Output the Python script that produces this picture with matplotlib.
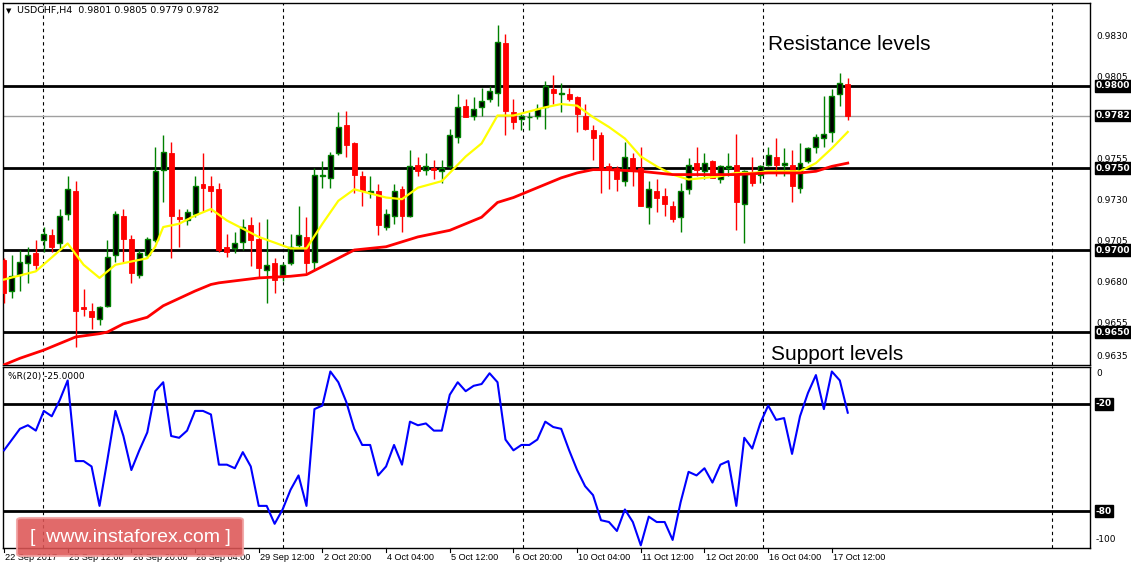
import numpy as np
import matplotlib
matplotlib.use("Agg")
import matplotlib.pyplot as plt
from matplotlib.patches import FancyBboxPatch
import matplotlib.transforms as mtrans

# ---- data (prices in 1/10000) ----
O = [9694,9675,9685,9692,9698,9706,9709,9704,9722,9736,
     9665,9663,9658,9666,9697,9721,9707,9685,9697,9706,
     9749,9759,9720,9718,9722,9740,9739,9737,9702,9701,
     9705,9715,9707,9688,9692,9685,9692,9703,9708,9693,
     9745,9744,9759,9776,9765,9745,9735,9736,9714,9721,
     9737,9721,9752,9749,9750,9748,9751,9769,9788,9782,
     9787,9792,9796,9826,9784,9780,9781,9782,9787,9798,
     9795,9795,9793,9782,9773,9770,9751,9750,9742,9756,
     9750,9726,9736,9733,9727,9720,9737,9753,9748,9754,
     9743,9750,9752,9728,9747,9746,9752,9757,9752,9752,
     9738,9754,9763,9768,9772,9795,9801]
H = [9695,9697,9700,9702,9706,9714,9713,9725,9745,9742,
     9676,9668,9666,9706,9724,9725,9709,9700,9708,9763,
     9770,9766,9725,9725,9745,9759,9745,9741,9710,9711,
     9719,9720,9717,9719,9695,9692,9710,9727,9720,9750,
     9754,9760,9784,9785,9766,9748,9745,9740,9725,9740,
     9739,9761,9757,9759,9755,9755,9774,9795,9792,9793,
     9799,9800,9837,9832,9792,9783,9784,9789,9803,9807,
     9802,9799,9794,9789,9776,9772,9753,9751,9766,9759,
     9763,9742,9743,9738,9730,9741,9756,9763,9759,9755,
     9752,9759,9771,9749,9757,9752,9763,9768,9762,9761,
     9765,9763,9771,9794,9798,9808,9805]
L = [9668,9671,9675,9680,9688,9699,9699,9700,9718,9641,
     9660,9652,9654,9665,9693,9693,9680,9683,9695,9705,
     9729,9695,9702,9715,9720,9724,9723,9699,9696,9698,
     9700,9690,9683,9668,9674,9681,9691,9702,9686,9688,
     9738,9738,9758,9757,9735,9727,9732,9709,9712,9716,
     9711,9720,9745,9746,9743,9741,9750,9765,9781,9779,
     9782,9790,9788,9770,9774,9773,9773,9780,9774,9789,
     9784,9791,9772,9773,9755,9735,9737,9736,9739,9739,
     9727,9716,9723,9721,9717,9711,9734,9745,9743,9744,
     9741,9745,9712,9704,9739,9741,9751,9745,9745,9729,
     9735,9753,9759,9763,9766,9788,9779]
C = [9674,9684,9693,9697,9691,9710,9702,9721,9737,9663,
     9664,9659,9665,9696,9722,9707,9686,9698,9707,9748,
     9760,9721,9719,9723,9739,9738,9736,9700,9699,9704,
     9714,9706,9689,9691,9682,9691,9702,9709,9692,9746,
     9746,9758,9775,9764,9746,9736,9736,9715,9722,9736,
     9721,9751,9748,9751,9749,9750,9770,9787,9781,9786,
     9791,9797,9827,9785,9778,9782,9781,9786,9800,9796,
     9796,9792,9783,9774,9768,9749,9749,9743,9757,9749,
     9727,9737,9732,9728,9719,9736,9752,9749,9753,9744,
     9751,9751,9729,9748,9741,9751,9758,9752,9753,9739,
     9753,9762,9769,9771,9794,9802,9782]

ma_fast_idx = [0,4,8,10,12,14,16,18,19,20,22,24,26,28,32,36,38,40,42,44,48,50,52,55,56,58,60,62,64,68,70,72,74,76,78,80,82,84,86,88,90,92,94,96,100,102,104,106]
ma_fast_val = [9682,9687,9704,9691,9683,9691,9693,9695,9702,9714,9716,9721,9725,9718,9708,9701,9701,9716,9730,9737,9732,9731,9738,9742,9747,9757,9765,9782,9782,9787,9789,9788,9781,9775,9768,9757,9751,9746,9743,9744,9745,9747,9747,9748,9748,9753,9762,9772]
ma_slow_idx = [0,2,5,9,12,13,15,18,20,24,26,27,32,36,38,40,42,44,46,48,50,52,53,56,58,60,62,64,66,68,70,72,74,76,80,84,88,92,96,100,102,104,106]
ma_slow_val = [9630,9634,9639,9647,9649,9650,9655,9659,9666,9675,9679,9680,9683,9684,9685,9690,9695,9700,9701,9702,9705,9708,9709,9712,9716,9720,9729,9732,9736,9740,9744,9747,9749,9749,9748,9746,9746,9746,9747,9747,9748,9751,9753]

wpr = [-46,-40,-34,-32,-35,-24,-27,-18,-7,-52,
       -52,-55,-77,-51,-24,-38,-57,-46,-36,-13,
       -8,-38,-39,-35,-24,-24,-26,-54,-54,-56,
       -47,-55,-77,-77,-87,-79,-68,-60,-77,-23,
       -21,-2,-8,-19,-34,-43,-43,-60,-55,-43,
       -54,-30,-32,-31,-35,-35,-15,-8,-13,-10,
       -9,-3,-8,-40,-46,-43,-43,-40,-30,-33,
       -34,-46,-57,-66,-71,-85,-86,-91,-79,-86,
       -99,-83,-86,-86,-96,-75,-58,-60,-56,-64,
       -54,-52,-77,-39,-45,-31,-21,-29,-28,-48,
       -27,-14,-4,-23,-2,-7,-25]

price_levels = [0.9800, 0.9750, 0.9700, 0.9650]
last_price = 0.9782
axis_labels = ["0.9830","0.9805","0.9755","0.9730","0.9705","0.9680","0.9655","0.9635"]
date_idx = list(range(0, 105, 8))
date_labels = ["22 Sep 2017","25 Sep 12:00","26 Sep 20:00","28 Sep 04:00","29 Sep 12:00",
               "2 Oct 20:00","4 Oct 04:00","5 Oct 12:00","6 Oct 20:00","10 Oct 04:00",
               "11 Oct 12:00","12 Oct 20:00","16 Oct 04:00","17 Oct 12:00"]
grid_idx = [4.9, 35.1, 65.2, 95.4, 131.7]

O = np.array(O)/1e4; H = np.array(H)/1e4; L = np.array(L)/1e4; C = np.array(C)/1e4
x = np.arange(len(O))

W, Hh = 1131, 569
fig = plt.figure(figsize=(W/100, Hh/100), dpi=100)
fig.patch.set_facecolor("white")
def fx(px): return px / W
def fy(py): return 1 - py / Hh

ax1 = fig.add_axes([fx(3), fy(365), fx(1090) - fx(3), fy(3) - fy(365)])
ax2 = fig.add_axes([fx(3), fy(548), fx(1090) - fx(3), fy(367) - fy(548)])
px_per_bar = 7.96
xmin = (3 - 4) / px_per_bar
xmax = (1090 - 4) / px_per_bar
for ax in (ax1, ax2):
    ax.set_xlim(xmin, xmax)
    ax.set_xticks([]); ax.set_yticks([])
    for s in ax.spines.values():
        s.set_color("black"); s.set_linewidth(1)
    for g in grid_idx:
        ax.axvline(g, color="black", lw=0.8, ls=(0, (3, 3)), zorder=1)

ax1.set_ylim(0.96299, 0.98506)
bull = C >= O
green = "#008000"
ax1.vlines(x[bull], L[bull], H[bull], color=green, lw=1, zorder=3)
ax1.vlines(x[~bull], L[~bull], H[~bull], color="#ff0000", lw=1, zorder=3)
body = np.maximum(np.abs(C - O), 0.00003)
bot = np.minimum(O, C)
ax1.bar(x[bull], body[bull], bottom=bot[bull], width=0.62, color="black",
        edgecolor=green, linewidth=1, zorder=4)
ax1.bar(x[~bull], body[~bull], bottom=bot[~bull], width=0.62, color="#ff0000",
        edgecolor="#ff0000", linewidth=0.6, zorder=4)

ax1.plot(ma_fast_idx, np.array(ma_fast_val)/1e4, color="#ffff00", lw=1.6, zorder=5)
ax1.plot(ma_slow_idx, np.array(ma_slow_val)/1e4, color="#ff0000", lw=2.0, zorder=5)

for lv in price_levels:
    ax1.axhline(lv, color="black", lw=2, zorder=2)
ax1.axhline(last_price, color="#a0a0a0", lw=1, zorder=2)

tr1 = mtrans.blended_transform_factory(fig.transFigure, ax1.transData)
for s in axis_labels:
    ax1.text(fx(1096), float(s), s, transform=tr1, fontsize=6.5, va="center", ha="left",
             family="DejaVu Sans", clip_on=False)
for lv in price_levels + [last_price]:
    ax1.text(fx(1096), lv, f"{lv:.4f}", transform=tr1, fontsize=6.5, va="center", ha="left",
             color="white", family="DejaVu Sans", fontweight="bold", clip_on=False,
             bbox=dict(boxstyle="square,pad=0.15", fc="black", ec="black"))

ax1.text(fx(768), fy(45), "Resistance levels", transform=fig.transFigure,
         fontsize=15, family="Liberation Sans", va="center", ha="left")
ax1.text(fx(771), fy(354), "Support levels", transform=fig.transFigure,
         fontsize=15, family="Liberation Sans", va="center", ha="left")
fig.text(fx(6), fy(11), "\u25BC", fontsize=5, va="center", ha="left")
fig.text(fx(17), fy(11), "USDCHF,H4  0.9801 0.9805 0.9779 0.9782", fontsize=6.8,
         va="center", ha="left", family="DejaVu Sans")

# Williams %R
ax2.set_ylim(-100.5, 0.5)
ax2.plot(x, wpr, color="#0000ff", lw=1.5, zorder=4)
for lv in (-20, -80):
    ax2.axhline(lv, color="black", lw=2, zorder=2)
fig.text(fx(8), fy(376), "%R(20) -25.0000", fontsize=6.5, va="center", ha="left")
tr2 = mtrans.blended_transform_factory(fig.transFigure, ax2.transData)
ax2.text(fx(1096), -3, "0", transform=tr2, fontsize=6.5, va="center", ha="left", clip_on=False)
ax2.text(fx(1096), -96, "-100", transform=tr2, fontsize=6.5, va="center", ha="left", clip_on=False)
for lv in (-20, -80):
    ax2.text(fx(1096), lv, str(lv), transform=tr2, fontsize=6.5, va="center", ha="left",
             color="white", fontweight="bold", clip_on=False,
             bbox=dict(boxstyle="square,pad=0.15", fc="black", ec="black"))

tr3 = mtrans.blended_transform_factory(ax2.transData, fig.transFigure)
for i, lab in zip(date_idx, date_labels):
    ax2.plot([i, i], [fy(548), fy(552)], transform=tr3, color="black", lw=0.8, clip_on=False)
    ax2.text(i + 0.15, fy(558), lab, transform=tr3, fontsize=6.6, va="center", ha="left",
             family="Liberation Sans", clip_on=False)

# watermark
wm = FancyBboxPatch((fx(17), fy(556)), fx(243) - fx(17), fy(518) - fy(556),
                    boxstyle="round,pad=0,rounding_size=0.004", transform=fig.transFigure,
                    fc="#dd5555", ec="#f0a0a0", lw=1.5, alpha=0.88, zorder=10)
fig.add_artist(wm)
fig.text(fx(130), fy(538), "[  www.instaforex.com ]", fontsize=14, color="white",
         ha="center", va="center", family="Liberation Sans", zorder=11)

fig.savefig("out.png", dpi=100, facecolor="white")
